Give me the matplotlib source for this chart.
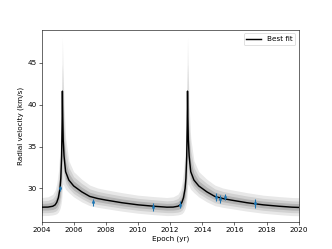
import matplotlib
matplotlib.use("Agg")
import matplotlib.pyplot as plt

# epochs (yr) for the model curve and its bands
epoch = [2004.0, 2004.4, 2004.7, 2004.85, 2004.95, 2005.05, 2005.15, 2005.2, 2005.25, 2005.28,
         2005.3, 2005.32, 2005.35, 2005.4, 2005.5, 2005.7, 2006.0, 2006.5, 2007.0, 2007.5,
         2008.0, 2009.0, 2010.0, 2011.0, 2011.8,
         2012.18, 2012.48, 2012.63, 2012.73, 2012.83, 2012.93, 2012.98, 2013.03, 2013.06,
         2013.08, 2013.1, 2013.13, 2013.18, 2013.28, 2013.48, 2013.78, 2014.28, 2014.78, 2015.28,
         2015.78, 2016.78, 2017.78, 2018.78, 2019.58, 2020.0]

bestFit = [27.77, 27.78, 27.88, 28.05, 28.35, 28.9, 30.0, 31.2, 33.8, 37.5,
           41.6, 38.5, 35.8, 33.9, 32.0, 31.0, 30.3, 29.6, 29.05, 28.8,
           28.62, 28.3, 28.05, 27.88, 27.77,
           27.78, 27.88, 28.05, 28.35, 28.9, 30.0, 31.2, 33.8, 37.5,
           41.6, 38.5, 35.8, 33.9, 32.0, 31.0, 30.3, 29.6, 29.05, 28.8,
           28.62, 28.3, 28.05, 27.88, 27.77, 27.74]

# inner (darkest) band
darkLo = [27.42, 27.43, 27.5, 27.62, 27.8, 28.2, 29.0, 29.9, 31.5, 34.0,
          36.5, 35.0, 33.5, 32.5, 31.2, 30.4, 29.8, 29.15, 28.65, 28.42,
          28.25, 27.95, 27.7, 27.53, 27.42,
          27.43, 27.5, 27.62, 27.8, 28.2, 29.0, 29.9, 31.5, 34.0,
          36.5, 35.0, 33.5, 32.5, 31.2, 30.4, 29.8, 29.15, 28.65, 28.42,
          28.25, 27.95, 27.7, 27.53, 27.42, 27.4]
darkHi = [28.22, 28.25, 28.4, 28.7, 29.1, 29.9, 31.5, 33.0, 36.0, 39.5,
          41.6, 40.5, 38.0, 35.8, 33.2, 31.8, 30.9, 30.15, 29.55, 29.27,
          29.08, 28.75, 28.5, 28.33, 28.22,
          28.25, 28.4, 28.7, 29.1, 29.9, 31.5, 33.0, 36.0, 39.5,
          41.6, 40.5, 38.0, 35.8, 33.2, 31.8, 30.9, 30.15, 29.55, 29.27,
          29.08, 28.75, 28.5, 28.33, 28.22, 28.2]

# middle band
midLo = [27.12, 27.12, 27.18, 27.28, 27.4, 27.7, 28.3, 28.9, 30.0, 31.5,
         33.0, 33.0, 32.0, 31.5, 30.6, 30.0, 29.4, 28.8, 28.3, 28.1,
         27.95, 27.65, 27.4, 27.23, 27.12,
         27.12, 27.18, 27.28, 27.4, 27.7, 28.3, 28.9, 30.0, 31.5,
         33.0, 33.0, 32.0, 31.5, 30.6, 30.0, 29.4, 28.8, 28.3, 28.1,
         27.95, 27.65, 27.4, 27.23, 27.12, 27.1]
midHi = [28.52, 28.58, 28.8, 29.2, 29.8, 30.8, 32.8, 34.8, 38.5, 42.0,
         44.8, 43.0, 40.5, 37.5, 34.5, 32.5, 31.4, 30.6, 29.95, 29.65,
         29.45, 29.1, 28.82, 28.65, 28.52,
         28.58, 28.8, 29.2, 29.8, 30.8, 32.8, 34.8, 38.5, 42.0,
         44.8, 43.0, 40.5, 37.5, 34.5, 32.5, 31.4, 30.6, 29.95, 29.65,
         29.45, 29.1, 28.82, 28.65, 28.52, 28.5]

# outer (lightest) band
lightLo = [26.77, 26.78, 26.85, 26.92, 27.0, 27.2, 27.6, 28.0, 28.6, 29.3,
           30.0, 30.5, 30.5, 30.3, 29.9, 29.5, 29.0, 28.4, 27.95, 27.75,
           27.6, 27.3, 27.05, 26.88, 26.77,
           26.78, 26.85, 26.92, 27.0, 27.2, 27.6, 28.0, 28.6, 29.3,
           30.0, 30.5, 30.5, 30.3, 29.9, 29.5, 29.0, 28.4, 27.95, 27.75,
           27.6, 27.3, 27.05, 26.88, 26.77, 26.75]
lightHi = [28.92, 29.0, 29.3, 29.8, 30.6, 32.0, 34.5, 37.0, 41.0, 45.0,
           48.0, 46.0, 43.5, 40.0, 36.0, 33.3, 32.0, 31.1, 30.4, 30.05,
           29.85, 29.5, 29.2, 29.03, 28.92,
           29.0, 29.3, 29.8, 30.6, 32.0, 34.5, 37.0, 41.0, 45.0,
           48.0, 46.0, 43.5, 40.0, 36.0, 33.3, 32.0, 31.1, 30.4, 30.05,
           29.85, 29.5, 29.2, 29.03, 28.92, 28.9]

# measured radial velocities
obsEpoch = [2005.14, 2007.2, 2010.92, 2012.64, 2014.86, 2015.09, 2015.38, 2017.27]
obsRV = [30.0, 28.33, 27.74, 28.05, 28.93, 28.75, 29.0, 28.22]
obsErr = [0.33, 0.45, 0.47, 0.43, 0.48, 0.47, 0.4, 0.55]

fig = plt.figure(figsize=(6.4, 4.8), dpi=332 / 6.4)
ax = fig.add_subplot(111)

ax.fill_between(epoch, lightLo, lightHi, color='0.91', lw=0)
ax.fill_between(epoch, midLo, midHi, color='0.82', lw=0)
ax.fill_between(epoch, darkLo, darkHi, color='0.70', lw=0)
ax.plot(epoch, bestFit, color='k', lw=2, label='Best fit')
ax.errorbar(obsEpoch, obsRV, yerr=obsErr, fmt='o', ms=3, color='#1f77b4',
            elinewidth=1.5, zorder=5)

ax.set_xlim(2004, 2020)
ax.set_ylim(26.05, 48.9)
ax.set_xticks(range(2004, 2021, 2))
ax.set_yticks([30, 35, 40, 45])
ax.set_xlabel('Epoch (yr)')
ax.set_ylabel('Radial velocity (km/s)')
ax.legend(loc='upper right')

fig.savefig('out.png', dpi=332 / 6.4)
